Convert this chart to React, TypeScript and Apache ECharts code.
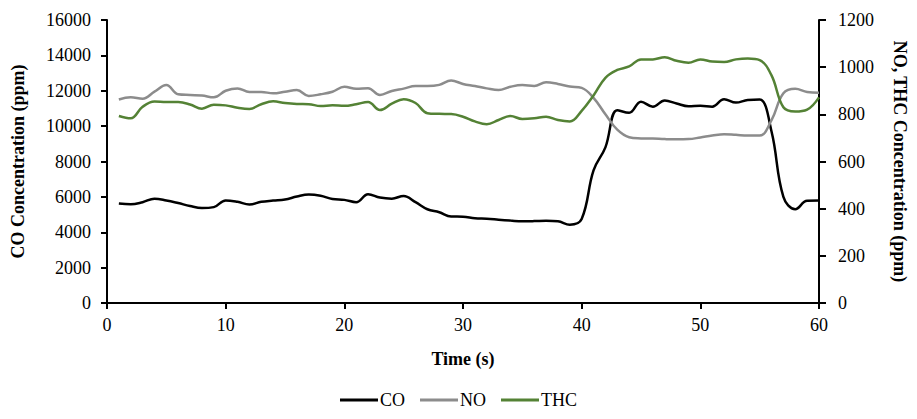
import React, { useEffect, useRef } from "react";
import * as echarts from "echarts";

const timeSec = [
  1, 2, 3, 4, 5, 6, 7, 8, 9, 10, 11, 12, 13, 14, 15, 16, 17, 18, 19, 20,
  21, 22, 23, 24, 25, 26, 27, 28, 29, 30, 31, 32, 33, 34, 35, 36, 37, 38, 39, 40,
  41, 42, 43, 44, 45, 46, 47, 48, 49, 50, 51, 52, 53, 54, 55, 56, 57, 58, 59, 60,
];

const coPpm = [
  5620, 5580, 5700, 5900, 5800, 5650, 5480, 5370, 5420, 5800,
  5720, 5570, 5720, 5790, 5850, 6020, 6130, 6060, 5880, 5830,
  5700, 6150, 5960, 5900, 6050, 5700, 5300, 5130, 4890, 4880,
  4790, 4760, 4710, 4660, 4620, 4630, 4650, 4620, 4430, 4750,
  7500, 8800, 10900, 10750, 11380, 11100, 11450, 11280, 11120, 11150,
  11100, 11520, 11330, 11480, 11500, 9700, 6000, 5300, 5780, 5790,
];

const noPpm = [
  863, 872, 866, 896, 924, 885, 882, 880, 872, 900,
  910, 895, 895, 889, 896, 903, 878, 885, 896, 917,
  909, 911, 882, 899, 909, 920, 920, 925, 943, 929,
  920, 910, 903, 917, 924, 920, 936, 929, 918, 912,
  870, 800, 735, 703, 698, 697, 695, 694, 695, 702,
  710, 716, 713, 710, 710, 775, 889, 908, 895, 892,
];

const thcPpm = [
  793, 783, 832, 854, 852, 852, 842, 824, 841, 838,
  828, 823, 843, 855, 848, 844, 843, 835, 838, 836,
  843, 852, 818, 845, 864, 848, 805, 802, 801, 790,
  770, 758, 776, 793, 780, 783, 790, 776, 770, 815,
  880, 955, 988, 1003, 1033, 1033, 1042, 1027, 1019, 1033,
  1024, 1022, 1033, 1037, 1030, 965, 830, 812, 820, 872,
];

const seriesNames = ["CO", "NO", "THC"];
const seriesColors = ["#000000", "#8c8c8c", "#548235"];

const FONT = "Liberation Serif";

export default function App() {
  const ref = useRef<HTMLDivElement>(null);

  useEffect(() => {
    if (!ref.current) return;
    const chart = echarts.init(ref.current, null, { renderer: "svg" });
    const pairs = (vals: number[]) => timeSec.map((t, i) => [t, vals[i]]);
    const axisLine = { show: true, lineStyle: { color: "#000", width: 2 } };
    const plain = (v: number) => String(v);
    const labelStyle = { color: "#000", fontFamily: FONT, fontSize: 18 };
    const nameStyle = { color: "#000", fontFamily: FONT, fontSize: 18, fontWeight: "bold" as const };

    chart.setOption({
      animation: false,
      backgroundColor: "#fff",
      textStyle: { fontFamily: FONT },
      grid: { left: 107, right: 94, top: 20, bottom: 116, containLabel: false },
      legend: {
        data: seriesNames,
        bottom: 5,
        left: "center",
        icon: "rect",
        itemWidth: 38,
        itemHeight: 3,
        itemGap: 15,
        textStyle: { ...labelStyle, padding: [0, 0, 0, -3] },
      },
      xAxis: {
        type: "value",
        min: 0,
        max: 60,
        interval: 10,
        name: "Time (s)",
        nameLocation: "middle",
        nameGap: 47,
        nameTextStyle: nameStyle,
        axisLine,
        axisTick: { show: true, inside: false, length: 6, lineStyle: { color: "#000", width: 2 } },
        axisLabel: { ...labelStyle, margin: 13, formatter: plain },
        splitLine: { show: false },
      },
      yAxis: [
        {
          type: "value",
          position: "left",
          min: 0,
          max: 16000,
          interval: 2000,
          name: "CO Concentration (ppm)",
          nameLocation: "middle",
          nameGap: 80,
          nameTextStyle: nameStyle,
          axisLine,
          axisTick: { show: true, inside: false, length: 6, lineStyle: { color: "#000", width: 2 } },
          axisLabel: { ...labelStyle, margin: 16, formatter: plain },
          splitLine: { show: false },
        },
        {
          type: "value",
          position: "right",
          min: 0,
          max: 1200,
          interval: 200,
          name: "NO, THC Concentration (ppm)",
          nameLocation: "middle",
          nameGap: 72,
          nameRotate: -90,
          nameTextStyle: nameStyle,
          axisLine,
          axisTick: { show: true, inside: false, length: 7, lineStyle: { color: "#000", width: 2 } },
          axisLabel: { ...labelStyle, margin: 19, formatter: plain },
          splitLine: { show: false },
        },
      ],
      series: [
        {
          name: seriesNames[0],
          type: "line",
          yAxisIndex: 0,
          data: pairs(coPpm),
          smooth: 0.4,
          showSymbol: false,
          symbol: "none",
          color: seriesColors[0],
          lineStyle: { color: seriesColors[0], width: 2.5 },
        },
        {
          name: seriesNames[1],
          type: "line",
          yAxisIndex: 1,
          data: pairs(noPpm),
          smooth: 0.4,
          showSymbol: false,
          symbol: "none",
          color: seriesColors[1],
          lineStyle: { color: seriesColors[1], width: 2.5 },
        },
        {
          name: seriesNames[2],
          type: "line",
          yAxisIndex: 1,
          data: pairs(thcPpm),
          smooth: 0.4,
          showSymbol: false,
          symbol: "none",
          color: seriesColors[2],
          lineStyle: { color: seriesColors[2], width: 2.5 },
        },
      ],
    });
    return () => chart.dispose();
  }, []);

  return (
    <div
      ref={ref}
      style={{ position: "fixed", left: 0, top: 0, width: 917, height: 419, background: "#fff" }}
    />
  );
}
